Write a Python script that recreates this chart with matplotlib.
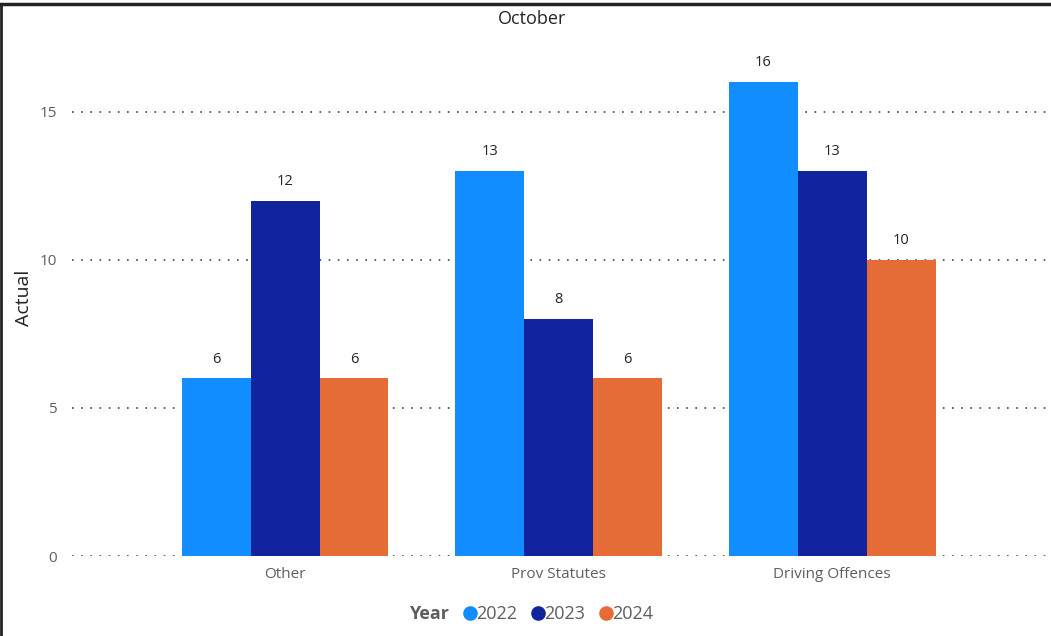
import matplotlib.pyplot as plt
import matplotlib.lines as mlines
import numpy as np

plt.rcParams['font.family'] = ['Open Sans', 'DejaVu Sans']

categories = ['Other', 'Prov Statutes', 'Driving Offences']
years = ['2022', '2023', '2024']
values = {
  '2022': [6, 13, 16],
  '2023': [12, 8, 13],
  '2024': [6, 6, 10],
}
colors = {'2022': '#118DFF', '2023': '#12239E', '2024': '#E66C37'}

W, H = 1051, 636
fig = plt.figure(figsize=(W / 100, H / 100), dpi=100)
ax = fig.add_axes([72 / W, (H - 556) / H, 1 - 72 / W, (556 - 40) / H])

x = np.arange(len(categories))
bw = 0.252
for i, yr in enumerate(years):
  pos = x + (i - 1) * bw
  ax.bar(pos, values[yr], width=bw, color=colors[yr], zorder=3)
  for p, v in zip(pos, values[yr]):
    ax.text(p, v + 0.4, str(v), ha='center', va='bottom', fontsize=10.5, color='#252423')

ax.set_xlim(-0.779, 2.80)
ax.set_ylim(0, 17.43)
ax.set_yticks([0, 5, 10, 15])
ax.set_xticks(x)
ax.set_xticklabels(categories)
ax.tick_params(axis='both', length=0, labelsize=11, labelcolor='#605E5C')
ax.tick_params(axis='y', pad=11)
ax.tick_params(axis='x', pad=8)
ax.grid(axis='y', linestyle=(0, (1, 4.5)), color='#444444', linewidth=1.2, zorder=0)
for s in ax.spines.values():
  s.set_visible(False)

ax.set_ylabel('Actual', fontsize=14, color='#252423')
ax.yaxis.set_label_coords(-0.040, 0.5)

fig.text(532 / W, 1 - 19 / H, 'October', ha='center', va='center', fontsize=13, color='#252423')

# legend
handles = [mlines.Line2D([], [], linestyle='none', marker=None)]
labels = ['Year']
for yr in years:
  handles.append(mlines.Line2D([], [], linestyle='none', marker='o', markersize=9.5,
                               color=colors[yr]))
  labels.append(yr)
leg = fig.legend(handles, labels, loc='center', bbox_to_anchor=(526 / W, 1 - 614 / H),
                 ncol=4, frameon=False, fontsize=13, handlelength=0.5, handletextpad=0.1,
                 columnspacing=0.9, labelcolor='#605E5C')
leg.get_texts()[0].set_fontweight('bold')

# frame lines
fig.add_artist(mlines.Line2D([0, 1], [1 - 4 / H, 1 - 4 / H], color='#222222', linewidth=2.5))
fig.add_artist(mlines.Line2D([1 / W, 1 / W], [0, 1 - 4 / H], color='#222222', linewidth=2))

fig.savefig('out.png', dpi=100)
